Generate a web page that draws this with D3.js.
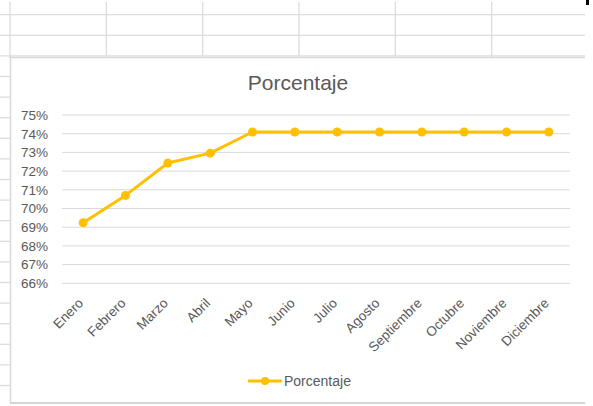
<!DOCTYPE html>
<html>
<head>
<meta charset="utf-8">
<script src="https://cdn.jsdelivr.net/npm/d3@7"></script>
<style>
  html, body { margin: 0; padding: 0; background: #fff; }
  svg { display: block; font-family: "Liberation Sans", Arial, sans-serif; }
</style>
</head>
<body>
<svg id="canvas" width="593" height="406"></svg>
<script>
let months = ['Enero', 'Febrero', 'Marzo', 'Abril', 'Mayo', 'Junio', 'Julio', 'Agosto', 'Septiembre', 'Octubre', 'Noviembre', 'Diciembre']
let porcentaje = [0.6924, 0.707, 0.7243, 0.7296, 0.7409, 0.7409, 0.7409, 0.7409, 0.7409, 0.7409, 0.7409, 0.7409]
let yTicks = [0.66, 0.67, 0.68, 0.69, 0.70, 0.71, 0.72, 0.73, 0.74, 0.75]
let seriesName = 'Porcentaje'
let title = 'Porcentaje'

let gold = '#FFC000'
let textColor = '#595959'
let sheetLine = '#dcdcdc'

let canvas = d3.select('#canvas')

// spreadsheet behind the chart
let sheet = canvas.append('g')
let colX = [10, 106.3, 202.7, 299, 395.3, 491.7]
colX.forEach((x) => {
  sheet.append('line').attr('x1', x).attr('x2', x).attr('y1', 2).attr('y2', 58)
    .attr('stroke', sheetLine).attr('stroke-width', 1.3)
})
for (let i = 0; i < 19; i++) {
  let y = 14.7 + i * 20.6
  sheet.append('line').attr('x1', 0).attr('x2', y < 60 ? 585 : 10).attr('y1', y).attr('y2', y)
    .attr('stroke', sheetLine).attr('stroke-width', 1.3)
}
canvas.append('rect').attr('x', 586).attr('y', 0).attr('width', 3).attr('height', 5).attr('fill', '#000')

// chart area
canvas.append('rect')
  .attr('x', 11).attr('y', 58).attr('width', 576).attr('height', 345)
  .attr('fill', '#fff')
canvas.append('line').attr('x1', 10.5).attr('x2', 10.5).attr('y1', 56).attr('y2', 404)
  .attr('stroke', '#d9d9d9').attr('stroke-width', 1.5)
canvas.append('line').attr('x1', 10).attr('x2', 585).attr('y1', 57.5).attr('y2', 57.5)
  .attr('stroke', '#d9d9d9').attr('stroke-width', 1.5)
canvas.append('line').attr('x1', 10).attr('x2', 585).attr('y1', 403).attr('y2', 403)
  .attr('stroke', '#d4d4d4').attr('stroke-width', 2)

canvas.append('text')
  .attr('x', 298).attr('y', 90)
  .attr('text-anchor', 'middle')
  .attr('font-size', 21)
  .attr('fill', textColor)
  .text(title)

let xScale = d3.scaleBand().domain(months).range([62, 570])
let yScale = d3.scaleLinear().domain([0.66, 0.75]).range([283.3, 115])

// gridlines
canvas.append('g')
  .selectAll('line')
  .data(yTicks)
  .enter()
  .append('line')
  .attr('x1', 62).attr('x2', 570)
  .attr('y1', (d) => yScale(d)).attr('y2', (d) => yScale(d))
  .attr('stroke', '#d9d9d9')
  .attr('stroke-width', 1)

let yAxis = canvas.append('g')
  .attr('transform', 'translate(62,0)')
  .call(d3.axisLeft(yScale).tickValues(yTicks).tickFormat(d3.format('.0%')).tickSize(0).tickPadding(14))
yAxis.select('.domain').remove()
yAxis.selectAll('text')
  .attr('fill', textColor)
  .attr('font-size', 13.5)
  .style('font-family', '"Liberation Sans", Arial, sans-serif')

// rotated category labels
canvas.append('g')
  .selectAll('text')
  .data(months)
  .enter()
  .append('text')
  .attr('transform', (d) => 'translate(' + (xScale(d) + xScale.bandwidth() / 2 + 1) + ',304) rotate(-45)')
  .attr('text-anchor', 'end')
  .attr('font-size', 13.5)
  .attr('fill', textColor)
  .text((d) => d)

let line = d3.line()
  .x((d, i) => xScale(months[i]) + xScale.bandwidth() / 2)
  .y((d) => yScale(d))

canvas.append('path')
  .datum(porcentaje)
  .attr('d', line)
  .attr('fill', 'none')
  .attr('stroke', gold)
  .attr('stroke-width', 3)
  .attr('stroke-linejoin', 'round')
  .attr('stroke-linecap', 'round')

canvas.append('g')
  .selectAll('circle')
  .data(porcentaje)
  .enter()
  .append('circle')
  .attr('cx', (d, i) => xScale(months[i]) + xScale.bandwidth() / 2)
  .attr('cy', (d) => yScale(d))
  .attr('r', 4.5)
  .attr('fill', gold)

// legend
let legend = canvas.append('g').attr('transform', 'translate(248,381)')
legend.append('line').attr('x1', 0).attr('x2', 34).attr('y1', 0).attr('y2', 0)
  .attr('stroke', gold).attr('stroke-width', 3)
legend.append('circle').attr('cx', 17).attr('cy', 0).attr('r', 4).attr('fill', gold)
legend.append('text')
  .attr('x', 36).attr('y', 5)
  .attr('font-size', 14)
  .attr('fill', textColor)
  .text(seriesName)
</script>
</body>
</html>
